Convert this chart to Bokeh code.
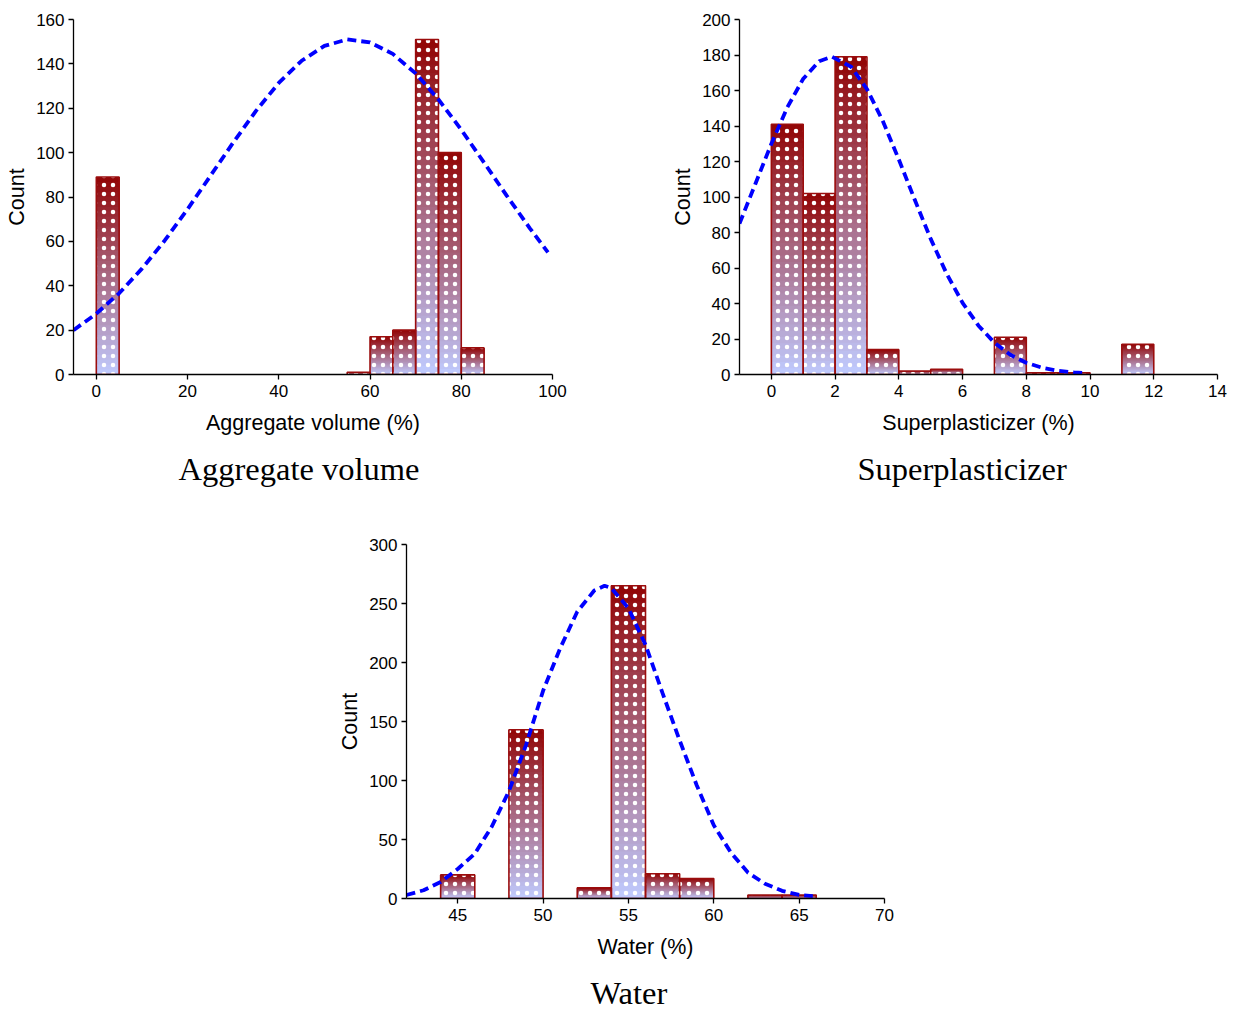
from bokeh.plotting import figure
from bokeh.layouts import column, row
from bokeh.models import FixedTicker, Title, Range1d, ColumnDataSource
from bokeh.embed import file_html
from bokeh.resources import INLINE

# ---------------- data ----------------
# Aggregate volume (%)
agg_left = [0, 55, 60, 65, 70, 75, 80]
agg_counts = [89, 1, 17, 20, 151, 100, 12]
agg_width = 5
agg_curve_x = [-5, 0, 5, 10, 15, 20, 25, 30, 35, 40, 45, 50, 55, 60, 65, 70, 75, 80, 85, 90, 95, 99]
agg_curve_y = [20, 27.4, 36.6, 47.7, 60.4, 74.5, 89.5, 104.5, 118.8, 131.4, 141.4, 148.1, 151,
               149.7, 144.5, 135.7, 124.0, 110.3, 95.5, 80.5, 66.0, 55]
agg_xticks = [0, 20, 40, 60, 80, 100]
agg_yticks = [0, 20, 40, 60, 80, 100, 120, 140, 160]

# Superplasticizer (%)
sp_left = [0, 1, 2, 3, 4, 5, 7, 8, 9, 11]
sp_counts = [141, 102, 179, 14, 2, 3, 21, 1, 1, 17]
sp_width = 1
sp_curve_x = [-1, -0.5, 0, 0.5, 1, 1.5, 1.9, 2.5, 3, 3.5, 4, 4.5, 5, 5.5, 6, 6.5, 7, 7.5, 8,
              8.5, 9, 9.5, 9.9]
sp_curve_y = [85, 107.5, 130, 150.5, 166.6, 176.5, 179, 173.4, 160.8, 142.7, 121.1, 98.4, 76.4,
              56.8, 40.4, 27.5, 17.9, 11.1, 6.6, 3.8, 2.1, 1.2, 0.8]
sp_xticks = [0, 2, 4, 6, 8, 10, 12, 14]
sp_yticks = [0, 20, 40, 60, 80, 100, 120, 140, 160, 180, 200]

# Water (%)
w_left = [44, 48, 52, 54, 56, 58, 62, 64]
w_counts = [20, 143, 9, 265, 21, 17, 3, 3]
w_width = 2
w_curve_x = [42, 43, 44, 45, 46, 47, 48, 49, 50, 51, 52, 53, 53.6, 54, 55, 56, 57, 58, 59, 60,
             61, 62, 63, 64, 65, 65.8]
w_curve_y = [3, 7, 14, 25, 38, 61, 91, 130, 176, 212, 243, 261, 265, 263, 246, 215, 174, 134,
             96, 62, 39, 22, 12.5, 6.5, 3, 2]
w_xticks = [45, 50, 55, 60, 65, 70]
w_yticks = [0, 50, 100, 150, 200, 250, 300]

TOP_RGB = (145, 5, 5)
BOT_RGB = (192, 203, 255)
EDGE = "#9B0D0D"
NSLICE = 40


def mix(t):
    r = int(round(BOT_RGB[0] + (TOP_RGB[0] - BOT_RGB[0]) * t))
    g = int(round(BOT_RGB[1] + (TOP_RGB[1] - BOT_RGB[1]) * t))
    b = int(round(BOT_RGB[2] + (TOP_RGB[2] - BOT_RGB[2]) * t))
    return "#%02x%02x%02x" % (r, g, b)


def make_hist(left, counts, width, cx, cy, xr, yr, xticks, yticks, xlabel, title,
              bl, fw, br, bt, fh, bb, title_offset):
    p = figure(frame_width=fw, frame_height=fh,
               min_border_left=bl, min_border_right=br,
               min_border_top=bt, min_border_bottom=bb,
               x_range=Range1d(*xr), y_range=Range1d(*yr),
               output_backend="svg", toolbar_location=None)
    p.outline_line_color = None
    p.xgrid.visible = False
    p.ygrid.visible = False

    # gradient bodies: each slice runs from its own bottom up to the bar top,
    # drawn bottom-first so the next slice covers it (no seams)
    sl, sr, sb, st, sc = [], [], [], [], []
    for l, c in zip(left, counts):
        for i in range(NSLICE):
            sl.append(l)
            sr.append(l + width)
            sb.append(c * i / NSLICE)
            st.append(c)
            sc.append(mix((i + 0.5) / NSLICE))
    p.quad(left=sl, right=sr, bottom=sb, top=st, fill_color=sc, line_color=None)

    # dotted pattern + outline
    src = ColumnDataSource(dict(left=left, right=[l + width for l in left],
                                top=counts, bottom=[0] * len(counts)))
    p.quad(left="left", right="right", top="top", bottom="bottom", source=src,
           fill_color=None, hatch_pattern="dot", hatch_color="white", hatch_alpha=1.0,
           hatch_scale=9, hatch_weight=3.5, line_color=EDGE, line_width=1.6)

    p.line(cx, cy, line_color="#0000FF", line_width=3.8, line_dash="9 5")

    for ax in (p.xaxis[0], p.yaxis[0]):
        ax.axis_line_color = "black"
        ax.axis_line_width = 1.3
        ax.major_tick_line_color = "black"
        ax.major_tick_line_width = 1.3
        ax.major_tick_in = 0
        ax.major_tick_out = 5
        ax.minor_tick_line_color = None
        ax.major_label_text_font = "Liberation Sans"
        ax.major_label_text_font_size = "17px"
        ax.major_label_text_color = "black"
        ax.axis_label_text_font = "Liberation Sans"
        ax.axis_label_text_font_size = "21.5px"
        ax.axis_label_text_font_style = "normal"
        ax.axis_label_text_color = "black"
    p.xaxis.ticker = FixedTicker(ticks=xticks)
    p.yaxis.ticker = FixedTicker(ticks=yticks)
    p.xaxis.major_label_standoff = 5
    p.yaxis.major_label_standoff = 4
    p.xaxis.axis_label = xlabel
    p.yaxis.axis_label = "Count"
    p.xaxis.axis_label_standoff = 11
    p.yaxis.axis_label_standoff = 4

    t = Title(text=title, align="left", offset=title_offset,
              text_font="Liberation Serif", text_font_size="32.5px",
              text_font_style="normal", text_color="black", standoff=22)
    p.add_layout(t, "below")
    return p


p1 = make_hist(agg_left, agg_counts, agg_width, agg_curve_x, agg_curve_y, (-5, 100), (0, 160),
               agg_xticks, agg_yticks, "Aggregate volume (%)", "Aggregate volume",
               73, 479, 68, 19, 355, 136, 105)
p2 = make_hist(sp_left, sp_counts, sp_width, sp_curve_x, sp_curve_y, (-1, 14), (0, 200),
               sp_xticks, sp_yticks, "Superplasticizer (%)", "Superplasticizer",
               119, 478, 19, 19, 355, 136, 118)
p3 = make_hist(w_left, w_counts, w_width, w_curve_x, w_curve_y, (42, 70), (0, 300),
               w_xticks, w_yticks, "Water (%)", "Water",
               406, 478, 40, 34, 354, 112, 184)

layout = column(row(p1, p2), p3)
open("out.html", "w").write(file_html(layout, INLINE))
